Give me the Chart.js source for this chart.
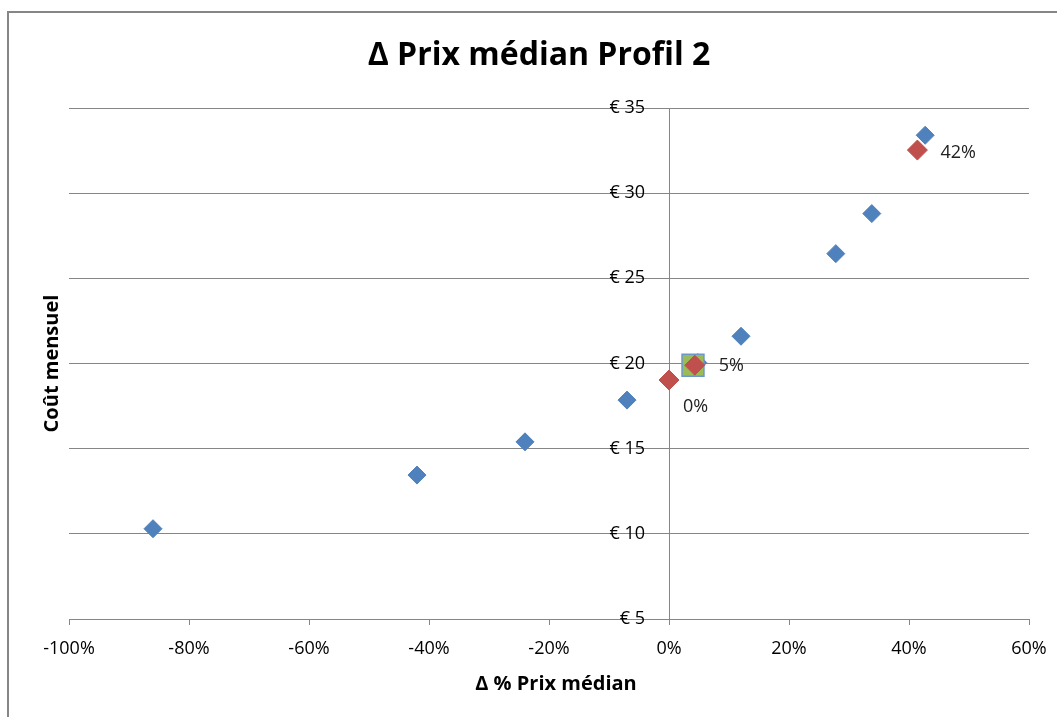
<!DOCTYPE html>
<html>
<head>
<meta charset="utf-8">
<script src="https://cdn.jsdelivr.net/npm/chart.js"></script>
<style>
  html, body { margin: 0; padding: 0; background: #fff; }
  canvas { display: block; }
</style>
</head>
<body>
<canvas id="chart" width="1057" height="717"></canvas>
<script>
// values
const blueX = [-86, -42, -24, -7, 4.8, 12, 27.8, 33.8, 42.7];
const blueY = [10.3, 13.45, 15.4, 17.85, 20.05, 21.6, 26.45, 28.8, 33.4];
const redX = [0, 4.3, 41.4];
const redY = [19.03, 19.9, 32.53];
const redLabels = ['0%', '5%', '42%'];
const greenX = [4.0];
const greenY = [19.9];

const xTicks = [-100, -80, -60, -40, -20, 0, 20, 40, 60];
const yTicks = [5, 10, 15, 20, 25, 30, 35];

const titleText = 'Δ Prix médian Profil 2';
const xTitle = 'Δ % Prix médian';
const yTitle = 'Coût mensuel';

const FONT = "'Open Sans', sans-serif";

const toPoints = (xs, ys) => xs.map((x, i) => ({ x: x, y: ys[i] }));

// frame + titles drawn on the canvas
const decor = {
  id: 'decor',
  beforeDraw(chart) {
    const ctx = chart.ctx;
    ctx.save();
    ctx.fillStyle = '#fff';
    ctx.fillRect(0, 0, chart.width, chart.height);
    ctx.strokeStyle = '#868686';
    ctx.lineWidth = 2;
    ctx.strokeRect(8, 12, 1200, 900);
    ctx.restore();
  },
  afterDraw(chart) {
    const ctx = chart.ctx;
    const area = chart.chartArea;
    ctx.save();
    ctx.fillStyle = '#000';
    ctx.textAlign = 'center';
    ctx.textBaseline = 'middle';
    ctx.font = 'bold 32px ' + FONT;
    ctx.fillText(titleText, 539, 56);
    ctx.font = 'bold 20px ' + FONT;
    ctx.fillText(xTitle, 556, 684);
    ctx.translate(52, (area.top + area.bottom) / 2);
    ctx.rotate(-Math.PI / 2);
    ctx.fillText(yTitle, 0, 0);
    ctx.restore();
  }
};

// y labels sit left of the crossing axis, set off by a gap
const yLabels = {
  id: 'yLabels',
  afterDraw(chart) {
    const ys = chart.scales.y;
    const xs = chart.scales.x;
    const ctx = chart.ctx;
    const x0 = xs.getPixelForValue(0) - 24;
    ctx.save();
    ctx.font = '18px ' + FONT;
    ctx.fillStyle = '#000';
    ctx.textAlign = 'right';
    ctx.textBaseline = 'middle';
    ys.ticks.forEach(t => {
      ctx.fillText('€ ' + t.value, x0, ys.getPixelForValue(t.value));
    });
    ctx.restore();
  }
};

// percentage labels beside the red points
const redTags = {
  id: 'redTags',
  afterDatasetsDraw(chart) {
    const meta = chart.getDatasetMeta(0);
    const ctx = chart.ctx;
    const offsets = [[14, 27], [24, 1], [23, 3]];
    ctx.save();
    ctx.font = '18px ' + FONT;
    ctx.fillStyle = '#222';
    ctx.textAlign = 'left';
    ctx.textBaseline = 'middle';
    meta.data.forEach((pt, i) => {
      ctx.fillText(redLabels[i], pt.x + offsets[i][0], pt.y + offsets[i][1]);
    });
    ctx.restore();
  }
};

new Chart(document.getElementById('chart'), {
  type: 'scatter',
  data: {
    datasets: [
      {
        label: 'Profil 2',
        data: toPoints(redX, redY),
        pointStyle: 'rectRot',
        pointRadius: 10,
        backgroundColor: '#C0504D',
        borderColor: '#C0504D',
        borderWidth: 1
      },
      {
        label: 'Médian',
        data: toPoints(greenX, greenY),
        pointStyle: 'rect',
        pointRadius: 15.5,
        backgroundColor: '#9BBB59',
        borderColor: '#6E97C9',
        borderWidth: 1.5
      },
      {
        label: 'Offres',
        data: toPoints(blueX, blueY),
        pointStyle: 'rectRot',
        pointRadius: 9,
        backgroundColor: '#4F81BD',
        borderColor: '#4F81BD',
        borderWidth: 1
      }
    ]
  },
  options: {
    responsive: false,
    animation: false,
    layout: { padding: { left: 69, right: 28, top: 108, bottom: 0 } },
    plugins: {
      legend: { display: false },
      tooltip: { enabled: false },
      title: { display: false }
    },
    scales: {
      x: {
        type: 'linear',
        position: 'bottom',
        min: -100,
        max: 60,
        afterBuildTicks: s => { s.ticks = xTicks.map(v => ({ value: v })); },
        afterFit: s => {
          s.height = 98;
          s.paddingLeft = 0;
          s.paddingRight = 0;
        },
        grid: {
          display: true,
          drawOnChartArea: false,
          drawTicks: true,
          tickLength: 6,
          color: '#868686'
        },
        border: { display: true, color: '#868686', width: 1 },
        ticks: {
          padding: 13,
          color: '#000',
          font: { family: FONT, size: 18 },
          maxRotation: 0,
          callback: v => v + '%'
        }
      },
      y: {
        type: 'linear',
        position: { x: 0 },
        min: 5,
        max: 35,
        afterBuildTicks: s => { s.ticks = yTicks.map(v => ({ value: v })); },
        grid: {
          display: true,
          drawTicks: false,
          color: '#868686',
          lineWidth: 1
        },
        border: { display: true, color: '#868686', width: 1 },
        ticks: { display: false }
      }
    }
  },
  plugins: [decor, yLabels, redTags]
});
</script>
</body>
</html>
